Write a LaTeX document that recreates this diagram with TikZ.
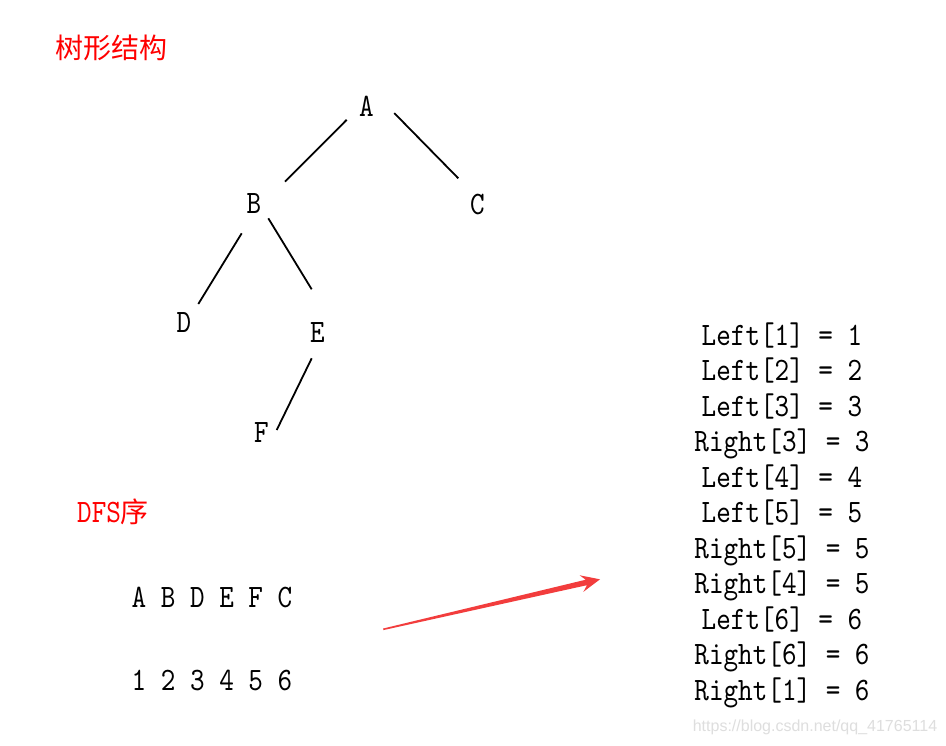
\documentclass[tikz,border=0pt]{standalone}
\usepackage{fontspec}
\newfontfamily\sn{lmmono10-regular}[Extension=.otf, FakeStretch=0.85]
\newfontfamily\cjk{Noto Sans CJK SC}
\setsansfont{Liberation Sans}
\usetikzlibrary{calc}
\definecolor{titlered}{RGB}{255,0,0}
\definecolor{arrowred}{RGB}{242,61,61}
\definecolor{wm}{RGB}{222,222,222}
\tikzset{
  lbl/.style={font={\sn\fontsize{32.7}{35.6}\selectfont}, inner sep=0pt, anchor=base},
  edgeline/.style={line width=1.8pt, black},
  title/.style={text=titlered, inner sep=0pt},
}
\begin{document}
\begin{tikzpicture}[x=1pt,y=-1pt]
  \fill[white] (0,0) rectangle (946,746);
  \useasboundingbox (0,0) rectangle (946,746);

  % titles
  \node[title, font={\cjk\fontsize{28}{28}\selectfont}] (t1) at (112,48) {树形结构};
  \node[title, anchor=base west] (t2) at (77,522) {{\sn\fontsize{32.7}{35.6}\selectfont DFS}{\cjk\fontsize{28}{28}\selectfont 序}};

  % tree
  \node[lbl] (A) at (366.5,117) {A};
  \node[lbl] (B) at (254,214) {B};
  \node[lbl] (C) at (477.5,215) {C};
  \node[lbl] (D) at (184,333) {D};
  \node[lbl] (E) at (317.5,342) {E};
  \node[lbl] (F) at (261.5,442.5) {F};

  \draw[edgeline] ($(A)+(-19.8,13)$) -- ($(B)+(31,-22.3)$);
  \draw[edgeline] ($(A)+(27.8,6.3)$) -- ($(C)+(-19.2,-26.7)$);
  \draw[edgeline] ($(B)+(-12.3,29.3)$) -- ($(D)+(14.3,-19)$);
  \draw[edgeline] ($(B)+(14.3,14.3)$) -- ($(E)+(-5.8,-42.7)$);
  \draw[edgeline] ($(E)+(-5.8,26.3)$) -- ($(F)+(15.2,-2.5)$);

  % DFS order
  \node[lbl] (seq) at (212,607) {A B D E F C};
  \node[lbl] (num) at (212,690) {1 2 3 4 5 6};

  % list
  \foreach \t [count=\i] in {{Left[1] = 1},{Left[2] = 2},{Left[3] = 3},{Right[3] = 3},{Left[4] = 4},{Left[5] = 5},{Right[5] = 5},{Right[4] = 5},{Left[6] = 6},{Right[6] = 6},{Right[1] = 6}}
    \node[lbl] (l\i) at (782,{345+35.55*(\i-1)}) {\t};

  % arrow
  \coordinate (tail) at (383.3,629.3);
  \coordinate (tip) at (600,579.3);
  \fill[arrowred] (383.12,628.52) -- (585.73,579.72) -- (579.58,575.29) -- (tip)
     -- (583.4,591.85) -- (586.99,585.18) -- (383.48,630.08) -- cycle;

  % watermark
  \node[font={\sffamily\fontsize{16}{16}\selectfont}, text=wm, anchor=base, inner sep=0pt] (wmk) at (815,731.5) {https://blog.csdn.net/qq\_41765114};
\end{tikzpicture}
\end{document}
